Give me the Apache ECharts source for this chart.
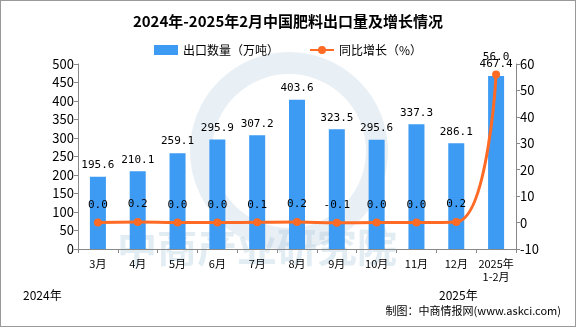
<!DOCTYPE html>
<html><head><meta charset="utf-8">
<script src="https://cdn.jsdelivr.net/npm/echarts@6/dist/echarts.min.js"></script>
<style>html,body{margin:0;padding:0;background:#fff}#c{width:576px;height:327px;box-sizing:border-box;border:1px solid #999}</style>
</head><body><div id="c"></div>
<script>
const categories = ['3月','4月','5月','6月','7月','8月','9月','10月','11月','12月','2025年\n1-2月'];
const exportVolume = [195.6,210.1,259.1,295.9,307.2,403.6,323.5,295.6,337.3,286.1,467.4];
const yoyGrowth = [0.0,0.2,0.0,0.0,0.1,0.2,-0.1,0.0,0.0,0.2,56.0];
const leftTicks = {min:0,max:500,interval:50};
const rightTicks = {min:-10,max:60,interval:10};

const chart = echarts.init(document.getElementById('c'));
const F = 'Noto Sans CJK SC, sans-serif';
chart.setOption({
  animation:false,
  title:{text:'2024年-2025年2月中国肥料出口量及增长情况',left:'center',top:8,
    textStyle:{fontSize:15,fontWeight:'bold',color:'#000',fontFamily:F}},
  legend:{top:38,left:'center',itemGap:30,itemWidth:24,itemHeight:10,
    textStyle:{fontSize:12,color:'#000',fontFamily:F},
    data:[{name:'出口数量（万吨）',icon:'rect'},{name:'同比增长（%）'}]},
  grid:{left:77,right:59,top:63,bottom:77},
  graphic:[
    {type:'circle',shape:{cx:288,cy:150,r:88},z:-20,style:{fill:'none',stroke:'rgba(190,210,225,0.35)',lineWidth:22}},
    {type:'text',left:22,top:288,style:{text:'2024年',fontSize:12,fill:'#000',fontFamily:F}},
    {type:'text',left:438,top:288,style:{text:'2025年',fontSize:12,fill:'#000',fontFamily:F}},
    {type:'text',right:14,top:304,style:{text:'{a|制图：中商情报网}{b|(www.askci.com)}',
      rich:{a:{fontSize:11,fill:'#000',color:'#000',fontFamily:F},b:{fontSize:11,color:'#1F3F8F',fontFamily:F}}}},
    {type:'text',left:116,top:226,z:-10,style:{text:'中商产业研究院',fontSize:40,fontWeight:'bold',fill:'rgba(170,200,222,0.35)',fontFamily:F}}
  ],
  xAxis:{type:'category',data:categories,
    axisLine:{lineStyle:{color:'#888'}},axisTick:{show:true,length:4,lineStyle:{color:'#888'}},
    axisLabel:{fontSize:11,color:'#000',fontFamily:F,margin:8,interval:0,lineHeight:13}},
  yAxis:[
    {type:'value',min:leftTicks.min,max:leftTicks.max,interval:leftTicks.interval,
     axisLine:{show:true,lineStyle:{color:'#888'}},axisTick:{show:true,length:4,lineStyle:{color:'#888'}},
     splitLine:{show:false},axisLabel:{fontSize:13,color:'#000',fontFamily:F,margin:4}},
    {type:'value',min:rightTicks.min,max:rightTicks.max,interval:rightTicks.interval,
     axisLine:{show:true,lineStyle:{color:'#888'}},axisTick:{show:true,length:4,lineStyle:{color:'#888'}},
     splitLine:{show:false},axisLabel:{fontSize:13,color:'#000',fontFamily:F,margin:4}}
  ],
  series:[
    {name:'出口数量（万吨）',type:'bar',data:exportVolume,barWidth:16,
     itemStyle:{color:'#3D9BF3'},
     label:{show:true,position:'top',fontSize:11,color:'#000',fontFamily:'DejaVu Sans Mono',distance:6,
       formatter:p=>p.value.toFixed(1)}},
    {name:'同比增长（%）',type:'line',yAxisIndex:1,data:yoyGrowth,smooth:true,
     symbol:'circle',symbolSize:8,
     lineStyle:{color:'#FF6A24',width:3},itemStyle:{color:'#FF6A24'},
     label:{show:true,position:'top',fontSize:11,color:'#000',fontFamily:'DejaVu Sans Mono',distance:8,
       formatter:p=>p.value.toFixed(1)}}
  ]
});
</script></body></html>
